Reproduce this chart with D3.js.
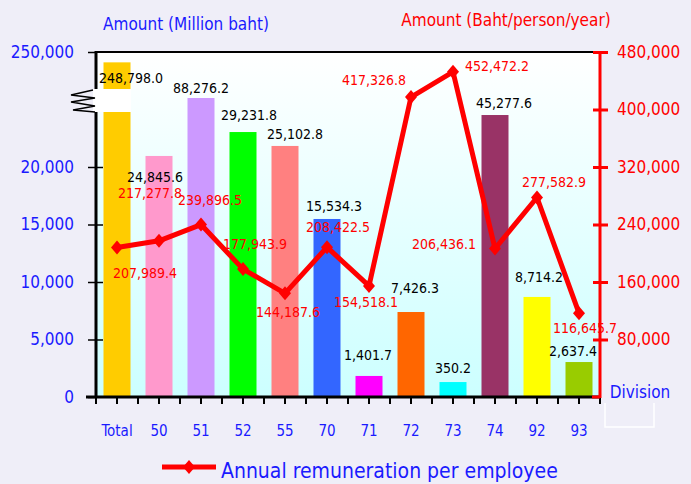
<!DOCTYPE html>
<meta charset="utf-8">
<style>
body { margin: 0; background: #efeef8; }
text { font-family: "DejaVu Sans Condensed", "Liberation Sans Narrow", "DejaVu Sans", sans-serif; }
</style>
<body>
<script src="https://cdn.jsdelivr.net/npm/d3@7"></script>
<script>
// categories (divisions)
var divisions = ["Total", "50", "51", "52", "55", "70", "71", "72", "73", "74", "92", "93"];
// amount in million baht (printed labels)
var amounts = [248798.0, 24845.6, 88276.2, 29231.8, 25102.8, 15534.3, 1401.7, 7426.3, 350.2, 45277.6, 8714.2, 2637.4];
// bar heights as drawn on the broken left axis
var barHeights = [29100, 20960, 26000, 23040, 21830, 15480, 1830, 7390, 1300, 24520, 8700, 3040];
// annual remuneration per employee (baht/person/year)
var remuneration = [207989.4, 217277.8, 239896.5, 177943.9, 144187.6, 208422.5, 154518.1, 417326.8, 452472.2, 206436.1, 277582.9, 116645.7];
var barColors = ["#ffcc00", "#ff99cc", "#cc99ff", "#00ff00", "#ff8080", "#3366ff", "#ff00ff", "#ff6600", "#00ffff", "#993366", "#ffff00", "#99cc00"];
// left axis ticks (axis broken above 20,000)
var leftTicks = [0, 5000, 10000, 15000, 20000, 30000];
var leftTickLabels = ["0", "5,000", "10,000", "15,000", "20,000", "250,000"];
var rightTicks = [80000, 160000, 240000, 320000, 400000, 480000];

// label nudges relative to the bar top / line point
var barLabelOff = [[14,16],[-4,21],[0,-10],[6,-17],[10,-12],[7,-13],[-1,-21],[4,-24],[0,-14],[9,-12],[2,-20],[-6,-11]];
var lineLabelOff = [[28,25],[-9,-48],[9,-25],[12,-25],[3,19],[11,-20],[-3,16],[-37,-17],[44,-6],[-51,-5],[17,-16],[6,15]];

var W = 691, H = 484;
var pLeft = 96, pRight = 600, pTop = 52, pBottom = 397;

var svg = d3.select("body").append("svg")
    .attr("width", W)
    .attr("height", H);

svg.append("rect").attr("width", W).attr("height", H).attr("fill", "#efeef8");

var grad = svg.append("defs").append("linearGradient")
    .attr("id", "bg").attr("x1", 0).attr("y1", 0).attr("x2", 0).attr("y2", 1);
grad.append("stop").attr("offset", "0%").attr("stop-color", "#ffffff");
grad.append("stop").attr("offset", "100%").attr("stop-color", "#ccffff");

svg.append("rect")
    .attr("x", pLeft).attr("y", pTop)
    .attr("width", pRight - pLeft).attr("height", pBottom - pTop)
    .attr("fill", "url(#bg)");

// scales
var xs = d3.scaleBand().domain(divisions).range([pLeft, pRight]);
var yL = d3.scaleLinear().domain([0, 30000]).range([pBottom, pTop]);
var yR = d3.scaleLinear().domain([0, 480000]).range([pBottom, pTop]);

function cx(i) { return xs(divisions[i]) + xs.bandwidth() / 2; }

// bars
svg.selectAll(".bar")
    .data(barHeights)
  .enter().append("rect")
    .attr("class", "bar")
    .attr("x", function(d, i) { return cx(i) - 13.5; })
    .attr("width", 27)
    .attr("y", function(d) { return yL(d); })
    .attr("height", function(d) { return pBottom - yL(d); })
    .attr("fill", function(d, i) { return barColors[i]; });

// axis break
svg.append("rect")
    .attr("x", pLeft - 3).attr("y", 89)
    .attr("width", 38).attr("height", 23)
    .attr("fill", "#ffffff");
svg.append("path")
    .attr("d", "M93,90 L71,95 L95,98 L71,102 L95,106 L73,110 L95,112")
    .attr("fill", "none").attr("stroke", "#000").attr("stroke-width", 1.3);

// top border
svg.append("line")
    .attr("x1", pLeft).attr("x2", pRight).attr("y1", pTop).attr("y2", pTop)
    .attr("stroke", "#000").attr("stroke-width", 2);

// left axis
var gl = svg.append("g")
    .attr("transform", "translate(" + pLeft + ",0)")
    .call(d3.axisLeft(yL).tickValues(leftTicks).tickSize(8).tickPadding(14)
        .tickFormat(function(d, i) { return leftTickLabels[i]; }));
gl.select(".domain").remove();
gl.selectAll(".tick line").attr("stroke", "#000").attr("stroke-width", 1.5)
    .attr("x1", function(d) { return d === 30000 || d === 0 ? 0 : 7; });
gl.selectAll(".tick text").attr("fill", "#1a1aff").style("font-size", "17px");
svg.append("line")
    .attr("x1", pLeft).attr("x2", pLeft).attr("y1", pTop - 1).attr("y2", 89)
    .attr("stroke", "#000").attr("stroke-width", 3);
svg.append("line")
    .attr("x1", pLeft).attr("x2", pLeft).attr("y1", 112).attr("y2", pBottom + 1)
    .attr("stroke", "#000").attr("stroke-width", 3);

// bottom axis
var gb = svg.append("g")
    .attr("transform", "translate(0," + pBottom + ")")
    .call(d3.axisBottom(xs).tickSize(0).tickPadding(28));
gb.select(".domain").remove();
gb.selectAll(".tick text").attr("fill", "#1a1aff").style("font-size", "15px");
svg.append("line")
    .attr("x1", 86).attr("x2", pRight).attr("y1", pBottom).attr("y2", pBottom)
    .attr("stroke", "#000").attr("stroke-width", 3);
var halfTicks = d3.range(divisions.length * 2 + 1);
svg.selectAll(".xt")
    .data(halfTicks)
  .enter().append("line")
    .attr("class", "xt")
    .attr("x1", function(d) { return pLeft + d * xs.bandwidth() / 2; })
    .attr("x2", function(d) { return pLeft + d * xs.bandwidth() / 2; })
    .attr("y1", pBottom).attr("y2", pBottom + 7)
    .attr("stroke", "#000").attr("stroke-width", 2);

// right axis
var gr = svg.append("g")
    .attr("transform", "translate(" + pRight + ",0)")
    .call(d3.axisRight(yR).tickValues(rightTicks).tickSize(8).tickPadding(9)
        .tickFormat(d3.format(",")));
gr.select(".domain").remove();
gr.selectAll(".tick line").attr("stroke", "#ff0000").attr("stroke-width", 3).attr("x1", -7);
gr.selectAll(".tick text").attr("fill", "#ff0000").style("font-size", "17px");
svg.append("line")
    .attr("x1", pRight).attr("x2", pRight).attr("y1", pTop).attr("y2", pBottom + 1)
    .attr("stroke", "#ff0000").attr("stroke-width", 3);
svg.append("line")
    .attr("x1", pRight - 8).attr("x2", pRight).attr("y1", pBottom).attr("y2", pBottom)
    .attr("stroke", "#ff0000").attr("stroke-width", 3);

// axis titles
svg.append("text")
    .attr("x", 186).attr("y", 30)
    .attr("text-anchor", "middle").attr("fill", "#1a1aff").style("font-size", "17px")
    .text("Amount (Million baht)");
svg.append("text")
    .attr("x", 506).attr("y", 26)
    .attr("text-anchor", "middle").attr("fill", "#ff0000").style("font-size", "17px")
    .text("Amount (Baht/person/year)");
svg.append("text")
    .attr("x", 640).attr("y", 398)
    .attr("text-anchor", "middle").attr("fill", "#1a1aff").style("font-size", "17px")
    .text("Division");
svg.append("path")
    .attr("d", "M605,403 V427 H654 V403")
    .attr("fill", "none").attr("stroke", "#ffffff").attr("stroke-width", 1.5);

// remuneration line
var line = d3.line()
    .x(function(d, i) { return cx(i); })
    .y(function(d) { return yR(d); });
svg.append("path")
    .datum(remuneration)
    .attr("d", line)
    .attr("fill", "none").attr("stroke", "#ff0000").attr("stroke-width", 5)
    .attr("stroke-linejoin", "round");
var diamond = "M0,-7 L6,0 L0,7 L-6,0 Z";
svg.selectAll(".mk")
    .data(remuneration)
  .enter().append("path")
    .attr("class", "mk")
    .attr("d", diamond)
    .attr("transform", function(d, i) { return "translate(" + cx(i) + "," + yR(d) + ")"; })
    .attr("fill", "#ff0000");

// bar labels
svg.selectAll(".bl")
    .data(amounts)
  .enter().append("text")
    .attr("class", "bl")
    .attr("x", function(d, i) { return cx(i) + barLabelOff[i][0]; })
    .attr("y", function(d, i) { return yL(barHeights[i]) + barLabelOff[i][1]; })
    .attr("dy", "0.36em")
    .attr("text-anchor", "middle").attr("fill", "#000").style("font-size", "14px")
    .text(function(d) { return d3.format(",.1f")(d); });

// line labels
svg.selectAll(".ll")
    .data(remuneration)
  .enter().append("text")
    .attr("class", "ll")
    .attr("x", function(d, i) { return cx(i) + lineLabelOff[i][0]; })
    .attr("y", function(d, i) { return yR(d) + lineLabelOff[i][1]; })
    .attr("dy", "0.36em")
    .attr("text-anchor", "middle").attr("fill", "#ff0000").style("font-size", "14px")
    .text(function(d) { return d3.format(",.1f")(d); });

// legend
svg.append("line")
    .attr("x1", 162).attr("x2", 216).attr("y1", 467).attr("y2", 467)
    .attr("stroke", "#ff0000").attr("stroke-width", 5);
svg.append("path")
    .attr("d", diamond)
    .attr("transform", "translate(189,467)")
    .attr("fill", "#ff0000");
svg.append("text")
    .attr("x", 221).attr("y", 478)
    .attr("fill", "#1a1aff").style("font-size", "21px")
    .text("Annual remuneration per employee");
</script>
</body>
